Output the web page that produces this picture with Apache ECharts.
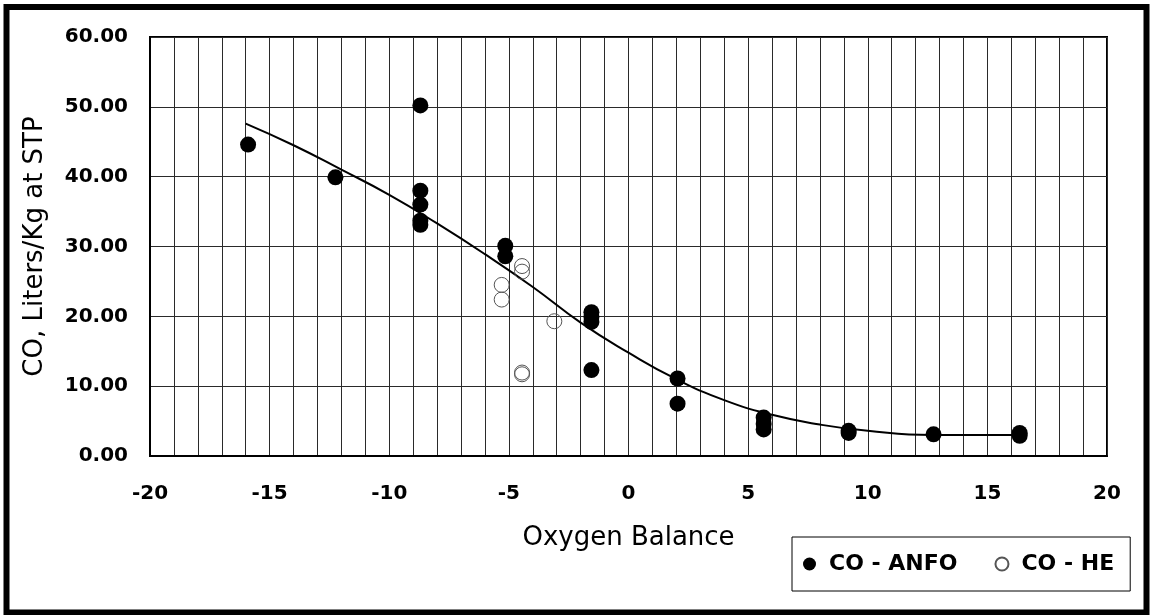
<!DOCTYPE html>
<html>
<head>
<meta charset="utf-8">
<script src="https://cdn.jsdelivr.net/npm/echarts@6/dist/echarts.min.js"></script>
<style>html,body{margin:0;padding:0;background:#fff}#c{width:1151px;height:615px}</style>
</head>
<body>
<div id="c"></div>
<script>
// Data
const xAxisTitle = 'Oxygen Balance';
const yAxisTitle = 'CO, Liters/Kg at STP';
const seriesNames = ['CO - ANFO', 'CO - HE'];
const xTicks = [-20, -15, -10, -5, 0, 5, 10, 15, 20];
const yTicks = [0, 10, 20, 30, 40, 50, 60];

const anfoPoints = [
  [-15.9, 44.6], [-12.25, 39.9],
  [-8.7, 50.2], [-8.7, 38.0], [-8.7, 36.0], [-8.7, 33.7], [-8.7, 33.1],
  [-5.15, 30.1], [-5.15, 28.6],
  [-1.55, 20.6], [-1.55, 19.9], [-1.55, 19.2], [-1.55, 12.3],
  [2.05, 11.1], [2.05, 7.5],
  [5.65, 5.5], [5.65, 4.6], [5.65, 3.8],
  [9.2, 3.6], [9.2, 3.3],
  [12.75, 3.1],
  [16.35, 3.3], [16.35, 2.9]
];
const hePoints = [
  [-4.45, 27.2], [-4.45, 26.4],
  [-5.3, 24.5], [-5.3, 22.4],
  [-3.1, 19.3],
  [-4.45, 11.95], [-4.45, 11.7]
];
const trendPoints = [
  [-16, 47.6], [-14, 44.5], [-12, 41.0], [-10, 37.4], [-8, 33.3],
  [-6, 28.9], [-4, 24.2], [-2, 19.1], [0, 14.8], [2, 11.0],
  [4, 8.0], [6, 5.9], [8, 4.5], [10, 3.6], [12.7, 3.0], [16.4, 3.0]
];

const chart = echarts.init(document.getElementById('c'), null, {renderer: 'canvas'});
const option = {
  backgroundColor: '#fff',
  animation: false,
  graphic: [{
    type: 'rect', silent: true, z: 100,
    shape: {x: 6.5, y: 7, width: 1140, height: 605.5},
    style: {fill: 'none', stroke: '#000', lineWidth: 6}
  }],
  grid: {left: 150, right: 44, top: 37, bottom: 159, show: true, borderColor: '#000', borderWidth: 2, backgroundColor: '#fff'},
  xAxis: {
    type: 'value', min: xTicks[0], max: xTicks[xTicks.length - 1], interval: 1,
    name: xAxisTitle, nameLocation: 'middle', nameGap: 69,
    nameTextStyle: {fontFamily: 'DejaVu Sans', fontSize: 26, color: '#000'},
    axisLine: {show: true, onZero: false, lineStyle: {color: '#000', width: 2}},
    axisTick: {show: false},
    axisLabel: {
      margin: 28, fontFamily: 'DejaVu Sans', fontWeight: 'bold', fontSize: 20, color: '#000',
      formatter: v => (xTicks.indexOf(v) >= 0 ? String(v) : '')
    },
    splitLine: {show: true, lineStyle: {color: '#2a2a2a', width: 1}}
  },
  yAxis: {
    type: 'value', min: yTicks[0], max: yTicks[yTicks.length - 1], interval: 10,
    name: yAxisTitle, nameLocation: 'middle', nameGap: 102,
    nameTextStyle: {fontFamily: 'DejaVu Sans', fontSize: 26, color: '#000'},
    axisLine: {show: true, onZero: false, lineStyle: {color: '#000', width: 2}},
    axisTick: {show: false},
    axisLabel: {
      margin: 22, fontFamily: 'DejaVu Sans', fontWeight: 'bold', fontSize: 20, color: '#000',
      padding: [3, 0, 0, 0],
      formatter: v => v.toFixed(2)
    },
    splitLine: {show: true, lineStyle: {color: '#2a2a2a', width: 1}}
  },
  legend: {
    data: seriesNames,
    left: 792, top: 537,
    padding: [16, 16, 16, 11],
    itemGap: 37, itemWidth: 13, itemHeight: 13,
    borderColor: '#000', borderWidth: 1, backgroundColor: '#fff',
    textStyle: {fontFamily: 'DejaVu Sans', fontWeight: 'bold', fontSize: 22, color: '#000', padding: [0, 0, 0, 8]}
  },
  series: [
    {
      name: 'trend', type: 'line', data: trendPoints, smooth: true, showSymbol: false,
      lineStyle: {color: '#000', width: 2}, z: 2, silent: true
    },
    {
      name: seriesNames[0], type: 'scatter', data: anfoPoints, symbol: 'circle', symbolSize: 16,
      itemStyle: {color: '#000', opacity: 1}, z: 3
    },
    {
      name: seriesNames[1], type: 'scatter', data: hePoints, symbol: 'circle', symbolSize: 15,
      itemStyle: {color: 'rgba(255,255,255,0)', borderColor: '#555', borderWidth: 1, opacity: 1}, z: 4
    }
  ]
};
chart.setOption(option);
</script>
</body>
</html>
